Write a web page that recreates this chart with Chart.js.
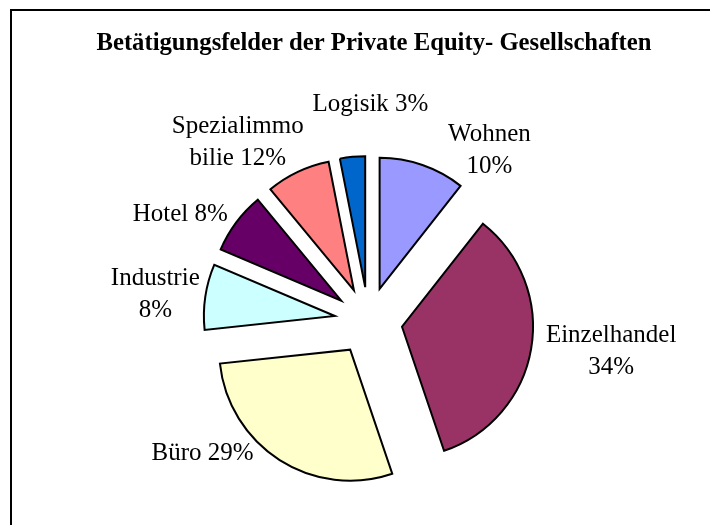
<!DOCTYPE html>
<html>
<head>
<meta charset="utf-8">
<script src="https://cdn.jsdelivr.net/npm/chart.js@4.4.1/dist/chart.umd.min.js"></script>
<style>
  body { margin: 0; background: #fff; }
  canvas { display: block; }
</style>
</head>
<body>
<canvas id="myChart" width="710" height="525"></canvas>
<script>
var labels = ["Wohnen", "Einzelhandel", "Büro", "Industrie", "Hotel", "Spezialimmobilie", "Logisik"];
// slice sizes (share of the circle, %)
var shares = [10.6, 34.2, 28.5, 8.1, 7.6, 7.9, 3.1];
// data label texts as printed in the chart
var labelText = [["Wohnen", "10%"], ["Einzelhandel", "34%"], ["Büro 29%"], ["Industrie", "8%"], ["Hotel 8%"], ["Spezialimmo", "bilie 12%"], ["Logisik 3%"]];
var colors = ["#9999FF", "#993366", "#FFFFCC", "#CCFFFF", "#660066", "#FF8080", "#0066CC"];

var serif = '"Liberation Serif", "Times New Roman", serif';

// pull every slice out from the centre along its middle angle
var explode = {
  id: "explode",
  beforeDatasetsDraw: function (chart, args, opts) {
    var meta = chart.getDatasetMeta(0);
    var area = chart.chartArea;
    var cx = (area.left + area.right) / 2;
    var cy = (area.top + area.bottom) / 2;
    meta.data.forEach(function (arc) {
      var mid = (arc.startAngle + arc.endAngle) / 2;
      arc.x = cx + Math.cos(mid) * opts.distance;
      arc.y = cy + Math.sin(mid) * opts.distance;
    });
  }
};

var decor = {
  id: "decor",
  afterDraw: function (chart, args, opts) {
    var ctx = chart.ctx;
    ctx.save();
    // frame (only top and left edge are in the picture)
    ctx.strokeStyle = "#000";
    ctx.lineWidth = 2;
    ctx.beginPath();
    ctx.moveTo(11, 525);
    ctx.lineTo(11, 10);
    ctx.lineTo(710, 10);
    ctx.stroke();

    ctx.fillStyle = "#000";
    ctx.textAlign = "center";
    ctx.textBaseline = "alphabetic";
    ctx.font = "bold 26px " + serif;
    ctx.fillText("Betätigungsfelder der Private Equity- Gesellschaften", 374, 50, 555);

    // data labels
    ctx.font = "25px " + serif;
    ctx.textBaseline = "middle";
    var meta = chart.getDatasetMeta(0);
    meta.data.forEach(function (arc, i) {
      var mid = (arc.startAngle + arc.endAngle) / 2;
      var px = arc.x + Math.cos(mid) * arc.outerRadius + opts.shift[i][0];
      var py = arc.y + Math.sin(mid) * arc.outerRadius + opts.shift[i][1];
      var lines = labelText[i];
      lines.forEach(function (t, k) {
        ctx.fillText(t, px, py + (k - (lines.length - 1) / 2) * 32);
      });
    });
    ctx.restore();
  }
};

var ctx = document.getElementById("myChart");
var myChart = new Chart(ctx, {
  type: "pie",
  data: {
    labels: labels,
    datasets: [
      {
        data: shares,
        backgroundColor: colors,
        borderColor: "#000",
        borderWidth: 2,
        borderJoinStyle: "miter"
      }
    ]
  },
  options: {
    responsive: false,
    animation: false,
    radius: 131,
    layout: { padding: { left: 27, top: 117, right: 0, bottom: 0 } },
    plugins: {
      legend: { display: false },
      tooltip: { enabled: false },
      explode: { distance: 34 },
      decor: {
        shift: [[67, -15], [80, 3], [-77, -7], [-50, -2], [-56, -8], [-60, -29], [18, -52]]
      }
    }
  },
  plugins: [explode, decor]
});
</script>
</body>
</html>
